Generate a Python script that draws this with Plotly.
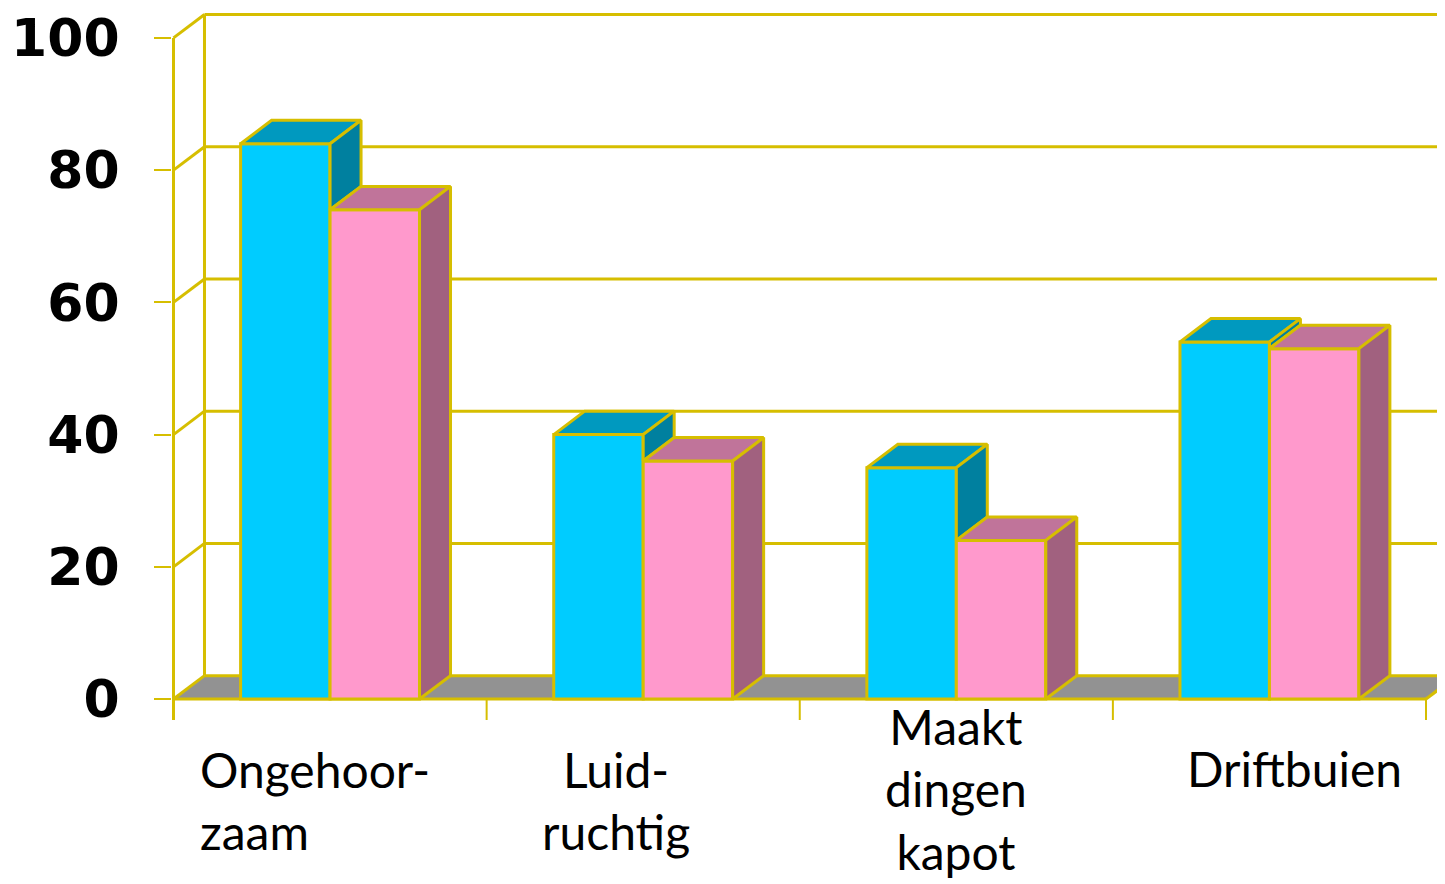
import plotly.graph_objects as go

categories = ["Ongehoor-<br>zaam", "Luid-<br>ruchtig", "Maakt<br>dingen<br>kapot", "Driftbuien"]
series_blue = [84, 40, 35, 54]
series_pink = [74, 36, 24, 53]
y_tick_vals = [0, 20, 40, 60, 80, 100]
y_tick_text = ["0", "20", "40", "60", "80", "100"]

# style
LINE = "#D6BE00"
LW = 3
BLUE = ["#00CCFF", "#0099BF", "#00809F"]   # front, top, side
PINK = ["#FF99CC", "#C0749A", "#A1617F"]
FLOOR = "#929292"

OFF = 8  # default page body margin
W, H = 1445 - OFF, 884 - OFF
px_left, px_right, px_top, px_bottom = 171.5 - OFF, 1445 - OFF, 8 - OFF, 722 - OFF
x0_px = 173 - OFF      # pixel of x = -0.5
cat_px = 313.25        # pixels per category
zero_px, unit_px = 699 - OFF, 6.63

x_min = -0.5 - (x0_px - px_left) / cat_px
x_max = -0.5 + (px_right - x0_px) / cat_px
y_min = -(px_bottom - zero_px) / unit_px
y_max = (zero_px - px_top) / unit_px

DX = 31 / cat_px
DY = 23.5 / unit_px
n = len(categories)
xs = list(range(n))
bargap = 0.4286
bw = (1 - bargap) / 2

fig = go.Figure()
fig.add_trace(go.Bar(x=xs, y=series_blue, name="blue", marker=dict(color=BLUE[0], line=dict(color=LINE, width=LW))))
fig.add_trace(go.Bar(x=xs, y=series_pink, name="pink", marker=dict(color=PINK[0], line=dict(color=LINE, width=LW))))


def poly(xp, yp, color):
    fig.add_trace(go.Scatter(x=xp + [xp[0]], y=yp + [yp[0]], mode="lines", fill="toself",
                             fillcolor=color, line=dict(color=LINE, width=LW),
                             hoverinfo="skip", showlegend=False))


for i in xs:
    vb, vp = series_blue[i], series_pink[i]
    a, b = i - bw, i
    poly([a, a + DX, b + DX, b], [vb, vb + DY, vb + DY, vb], BLUE[1])
    if vb > vp:
        poly([b, b, b + DX, b + DX], [vp, vb, vb + DY, vp + DY], BLUE[2])
    a2, b2 = i, i + bw
    poly([a2, a2 + DX, b2 + DX, b2], [vp, vp + DY, vp + DY, vp], PINK[1])
    poly([b2, b2, b2 + DX, b2 + DX], [0, vp, vp + DY, DY], PINK[2])

shapes = []
L, R = -0.5, n - 0.5
shapes.append(dict(type="path", layer="below", line=dict(width=0), fillcolor=FLOOR,
                   path=f"M {L},0 L {R},0 L {R+DX},{DY} L {L+DX},{DY} Z"))
for v in y_tick_vals:
    shapes.append(dict(type="line", layer="below", x0=L + DX, x1=x_max + 1, y0=v + DY, y1=v + DY,
                       line=dict(color=LINE, width=LW)))
    shapes.append(dict(type="line", layer="below", x0=L, x1=L + DX, y0=v, y1=v + DY,
                       line=dict(color=LINE, width=LW)))
shapes.append(dict(type="line", layer="below", x0=L + DX, x1=L + DX, y0=DY, y1=100 + DY,
                   line=dict(color=LINE, width=LW)))
shapes.append(dict(type="line", layer="below", x0=L, x1=L, y0=y_min + 0.3, y1=100,
                   line=dict(color=LINE, width=LW)))
shapes.append(dict(type="line", layer="below", x0=L, x1=R, y0=0, y1=0, line=dict(color=LINE, width=LW)))
shapes.append(dict(type="line", layer="below", x0=R, x1=R + DX, y0=0, y1=DY, line=dict(color=LINE, width=LW)))
for k in range(n + 1):
    xk = k - 0.5
    shapes.append(dict(type="line", layer="below", x0=xk, x1=xk, y0=0, y1=y_min + 0.3,
                       line=dict(color=LINE, width=2)))

label_style = [  # (xshift px, anchor, yshift px)
    (-132, "left", -40),
    (-27, "center", -40),
    (0, "center", 3),
    (25, "center", -39),
]
annotations = []
for i, txt in enumerate(categories):
    xs_, anc, ys_ = label_style[i]
    annotations.append(dict(x=i, y=0, xref="x", yref="y", text=txt, showarrow=False,
                            xanchor=anc, yanchor="top", align=anc, xshift=xs_, yshift=ys_,
                            font=dict(family="Lato", size=48, color="black")))

fig.update_layout(
    width=W, height=H,
    margin=dict(l=px_left, r=W - px_right, t=px_top, b=H - px_bottom, pad=0),
    paper_bgcolor="white", plot_bgcolor="white",
    barmode="group", bargap=bargap, bargroupgap=0,
    showlegend=False,
    shapes=shapes, annotations=annotations,
    xaxis=dict(range=[x_min, x_max], showgrid=False, zeroline=False, showline=False,
               showticklabels=False, ticks=""),
    yaxis=dict(range=[y_min, y_max], showgrid=False, zeroline=False, showline=False,
               tickvals=y_tick_vals, ticktext=y_tick_text, ticks="outside", ticklen=17,
               tickwidth=2, tickcolor=LINE, ticklabelstandoff=24, ticklabeloverflow="allow",
               tickfont=dict(family="DejaVu Sans", size=52, color="black", weight="bold")),
)

fig.write_html("out.html")
